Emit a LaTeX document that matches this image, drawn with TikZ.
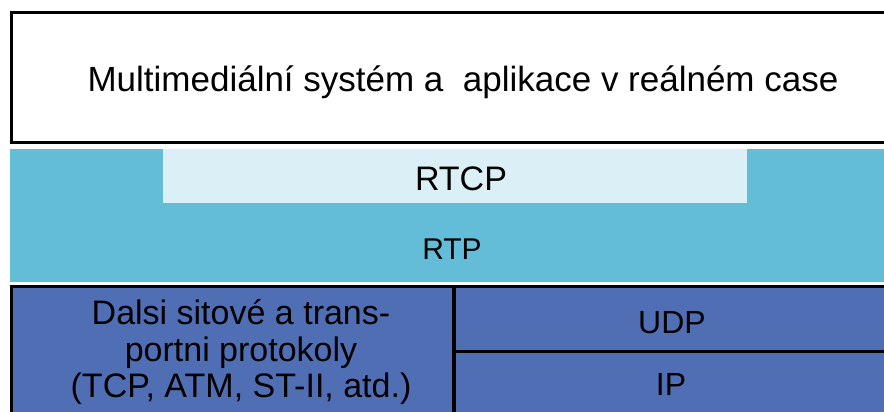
\documentclass[tikz,border=0pt]{standalone}
\usepackage{fontspec}
\setmainfont{Liberation Sans}
\usetikzlibrary{positioning}
\definecolor{rtpblue}{RGB}{99,189,217}
\definecolor{rtcpblue}{RGB}{218,240,246}
\definecolor{netblue}{RGB}{79,110,180}
\tikzset{label text/.style={inner sep=0pt, anchor=base, font=\fontsize{34}{36}\selectfont}}

\begin{document}
\begin{tikzpicture}[x=1pt,y=-1pt]
\useasboundingbox (0,0) rectangle (884,412);
\begin{scope}
\clip (0,0) rectangle (884,412);
% application layer
\draw[line width=3pt, fill=white] (11.5,13) rectangle (930,142);
% RTP / RTCP
\fill[rtpblue] (10,149) rectangle (930,282);
\fill[rtcpblue] (163,149) rectangle (747,203);
% network layer
\fill[netblue] (10,285) rectangle (930,430);
\draw[line width=3pt] (11.5,430) -- (11.5,286.5) -- (930,286.5);
\draw[line width=4pt] (454,286) -- (454,430);
\draw[line width=3pt] (454,351) -- (930,351);
\end{scope}

\node (app) [label text, font=\fontsize{35}{36}\selectfont] at (463,92) {Multimediální systém a \ aplikace v reálném case};
\node (rtcp) [label text] at (461,190) {RTCP};
\node (rtp) [label text, font=\fontsize{30}{36}\selectfont] at (452,259) {RTP};
\node (udp) [label text, font=\fontsize{32}{36}\selectfont] at (672,333) {UDP};
\node (ip) [label text, font=\fontsize{32}{36}\selectfont] at (671,395) {IP};
\node (other) [inner sep=0pt, align=center, font=\fontsize{34}{36.5}\selectfont] at (241,352) {Dalsi sitové a trans-\\portni protokoly\\(TCP, ATM, ST-II, atd.)};
\end{tikzpicture}
\end{document}
